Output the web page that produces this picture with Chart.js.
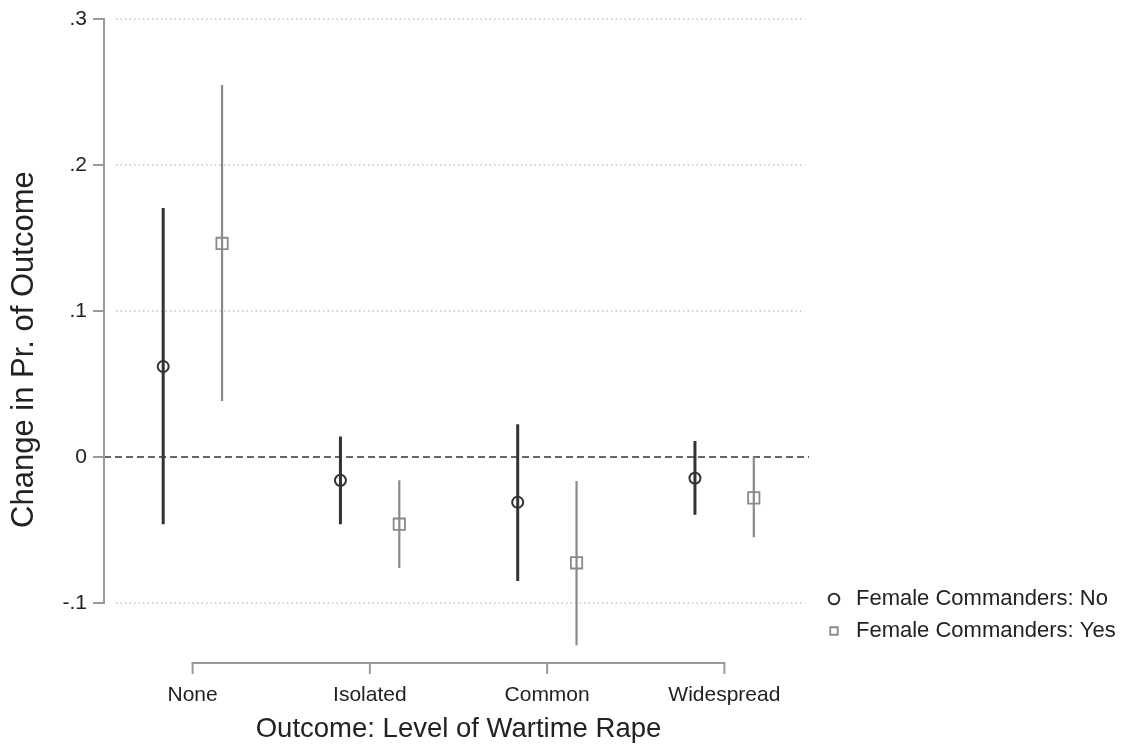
<!DOCTYPE html>
<html>
<head>
<meta charset="utf-8">
<script src="https://cdn.jsdelivr.net/npm/chart.js@4.4.1/dist/chart.umd.min.js"></script>
<style>
    html, body { margin: 0; padding: 0; background: #fff; }
    #wrap { width: 1121px; height: 744px; }
</style>
</head>
<body>
<div id="wrap"><canvas id="rapeChart"></canvas></div>
<script>
const categories = ['None', 'Isolated', 'Common', 'Widespread'];
const seriesLabels = ['Female Commanders: No', 'Female Commanders: Yes'];

// Female commanders: No
const noEst  = [0.062, -0.016, -0.031, -0.0145];
const noLow  = [-0.046, -0.046, -0.085, -0.0395];
const noHigh = [0.1705, 0.014, 0.0225, 0.011];

// Female commanders: Yes
const yesEst  = [0.1463, -0.046, -0.0725, -0.028];
const yesLow  = [0.0384, -0.076, -0.129, -0.055];
const yesHigh = [0.2548, -0.016, -0.0165, 0.0];

const yTicks = [-0.1, 0, 0.1, 0.2, 0.3];
const yTickLabels = ['-.1', '0', '.1', '.2', '.3'];

const groupOffset = 0.166;
const darkColor = '#333333';
const greyColor = '#8a8a8a';
const axisColor = '#9a9a9a';

function markerPoints(est, shift) {
    return est.map((v, i) => ({ x: i + 1 + shift, y: v }));
}

function whiskerPoints(low, high, shift) {
    const pts = [];
    low.forEach((lo, i) => {
        const x = i + 1 + shift;
        pts.push({ x: x, y: lo }, { x: x, y: high[i] }, { x: x, y: null });
    });
    return pts;
}

// Stata-style axes: short y axis line, bracket x axis, dotted grid, dashed zero line
const stataAxes = {
    id: 'stataAxes',
    afterLayout(chart) {
        // lift the legend so it sits next to the -.1 line like the original
        chart.legend.bottom = chart.chartArea.bottom - 11;
    },
    beforeDatasetsDraw(chart) {
        const { ctx, chartArea, scales } = chart;
        const x = scales.x, y = scales.y;
        const line = (x1, y1, x2, y2) => {
            ctx.beginPath();
            ctx.moveTo(x1, y1);
            ctx.lineTo(x2, y2);
            ctx.stroke();
        };
        ctx.save();

        ctx.strokeStyle = '#c4c4c4';
        ctx.lineWidth = 1.5;
        ctx.setLineDash([1.5, 3]);
        yTicks.forEach(v => {
            if (v === 0) return;
            const py = y.getPixelForValue(v);
            line(chartArea.left + 12, py, chartArea.right - 8, py);
        });

        ctx.strokeStyle = '#666666';
        ctx.lineWidth = 2;
        ctx.setLineDash([7, 4]);
        const zero = y.getPixelForValue(0);
        line(chartArea.left, zero, chartArea.right - 4, zero);

        ctx.setLineDash([]);
        ctx.strokeStyle = axisColor;
        ctx.lineWidth = 2;
        const yTop = y.getPixelForValue(yTicks[yTicks.length - 1]);
        const yBot = y.getPixelForValue(yTicks[0]);
        line(chartArea.left, yTop - 1, chartArea.left, yBot + 1);
        yTicks.forEach(v => {
            const py = y.getPixelForValue(v);
            line(chartArea.left - 11, py, chartArea.left, py);
        });

        const bx1 = x.getPixelForValue(1);
        const bx2 = x.getPixelForValue(categories.length);
        const by = chartArea.bottom;
        line(bx1 - 1, by, bx2 + 1, by);
        categories.forEach((c, i) => {
            const px = x.getPixelForValue(i + 1);
            line(px, by, px, by + 11);
        });
        ctx.restore();
    }
};

const ctx = document.getElementById('rapeChart').getContext('2d');
new Chart(ctx, {
    type: 'scatter',
    data: {
        datasets: [{
            label: seriesLabels[0],
            data: markerPoints(noEst, -groupOffset),
            pointStyle: 'circle',
            pointRadius: 5.5,
            pointBorderWidth: 2,
            borderColor: darkColor,
            backgroundColor: 'rgba(0,0,0,0)'
        }, {
            label: seriesLabels[1],
            data: markerPoints(yesEst, groupOffset),
            pointStyle: 'rect',
            pointRadius: 8,
            pointBorderWidth: 1.8,
            borderColor: greyColor,
            backgroundColor: 'rgba(0,0,0,0)'
        }, {
            label: 'noCI',
            data: whiskerPoints(noLow, noHigh, -groupOffset),
            showLine: true,
            spanGaps: false,
            pointRadius: 0,
            borderWidth: 3,
            borderColor: darkColor
        }, {
            label: 'yesCI',
            data: whiskerPoints(yesLow, yesHigh, groupOffset),
            showLine: true,
            spanGaps: false,
            pointRadius: 0,
            borderWidth: 2.2,
            borderColor: greyColor
        }]
    },
    options: {
        responsive: true,
        maintainAspectRatio: false,
        animation: false,
        layout: { padding: { top: 19, left: 0, right: 0, bottom: 0 } },
        scales: {
            x: {
                type: 'linear',
                min: 0.5,
                max: 4.5,
                offset: false,
                grid: { display: false, drawTicks: false },
                border: { display: false },
                afterBuildTicks: scale => {
                    scale.ticks = categories.map((c, i) => ({ value: i + 1 }));
                },
                afterFit: scale => { scale.height = 81; },
                ticks: {
                    padding: 20,
                    color: '#222',
                    font: { family: 'Liberation Sans', size: 21 },
                    callback: v => categories[v - 1]
                },
                title: {
                    display: true,
                    text: 'Outcome: Level of Wartime Rape',
                    color: '#222',
                    padding: { top: 0, bottom: -2 },
                    font: { family: 'Liberation Sans', size: 27.5 }
                }
            },
            y: {
                type: 'linear',
                min: -0.1411,
                max: 0.3,
                grid: { display: false, drawTicks: false },
                border: { display: false },
                afterBuildTicks: scale => {
                    scale.ticks = yTicks.map(v => ({ value: v }));
                },
                afterFit: scale => {
                    scale.width = 104;
                    scale.paddingTop = 0;
                    scale.paddingBottom = 0;
                },
                ticks: {
                    padding: 17,
                    color: '#222',
                    font: { family: 'Liberation Sans', size: 21 },
                    callback: v => yTickLabels[yTicks.indexOf(v)]
                },
                title: {
                    display: true,
                    // trailing spaces nudge the title down to where Stata centred it
                    text: 'Change in Pr. of Outcome  ',
                    color: '#222',
                    padding: { top: 6, bottom: 0 },
                    font: { family: 'Liberation Sans', size: 31 }
                }
            }
        },
        plugins: {
            tooltip: { enabled: false },
            legend: {
                position: 'right',
                align: 'end',
                fullSize: false,
                maxWidth: 308,
                labels: {
                    usePointStyle: true,
                    boxWidth: 22,
                    boxHeight: 7.5,
                    padding: 10,
                    color: '#222',
                    font: { family: 'Liberation Sans', size: 22 },
                    filter: item => item.datasetIndex < 2
                }
            }
        }
    },
    plugins: [stataAxes]
});
</script>
</body>
</html>
